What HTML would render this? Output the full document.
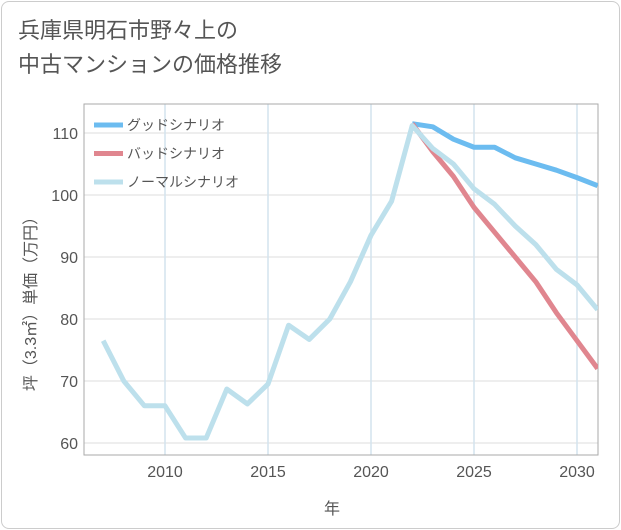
<!DOCTYPE html>
<html><head><meta charset="utf-8"><style>
body{margin:0;background:#fff;font-family:"Liberation Sans","Noto Sans CJK JP",sans-serif;}
.frame{position:absolute;left:1px;top:1px;width:617px;height:526px;border:1px solid #ccc;border-radius:8px;}
.title{position:absolute;left:18px;top:14px;font-size:22px;line-height:34px;color:#555;}
</style></head><body>
<div class="frame"></div>
<div class="title">兵庫県明石市野々上の<br>中古マンションの価格推移</div>
<svg id="chart" width="621" height="530" style="position:absolute;left:0;top:0"></svg>
<script>
const years=[2007,2008,2009,2010,2011,2012,2013,2014,2015,2016,2017,2018,2019,2020,2021,2022,2023,2024,2025,2026,2027,2028,2029,2030,2031];
const normal=[76.5,70,66,66,60.8,60.8,68.7,66.3,69.5,79,76.7,80,86,93.5,99,111.2,107.5,105,101,98.5,95,92,88,85.5,81.5];
const goodYears=[2022,2023,2024,2025,2026,2027,2028,2029,2030,2031];
const good=[111.5,111,109,107.7,107.7,106,105,104,102.8,101.5];
const bad=[111.5,107,103,98,94,90,86,81,76.5,72];
const xTicks=[2010,2015,2020,2025,2030];
const yTicks=[60,70,80,90,100,110];
const L=84,R=598,T=104,B=455;
const x=v=>165+(v-2010)*20.6;
const y=v=>443-(v-60)*6.2;
const svg=document.getElementById('chart');
const NS='http://www.w3.org/2000/svg';
function mk(t,a){const e=document.createElementNS(NS,t);for(const k in a)e.setAttribute(k,a[k]);svg.appendChild(e);return e;}
yTicks.forEach(v=>{
 const g=mk('line',{x1:L,x2:R,y1:y(v),y2:y(v),stroke:'#ddd','stroke-width':1});
 
 
 const t=mk('text',{x:L-6,y:y(v)+6,'text-anchor':'end','font-size':16,fill:'#555'});t.textContent=v;
 
 
});
xTicks.forEach(v=>{
 const g=mk('line',{x1:x(v),x2:x(v),y1:T,y2:B,stroke:'#d3e3ee','stroke-width':1.5});
 
 
 const t=mk('text',{x:x(v),y:B+22,'text-anchor':'middle','font-size':16,fill:'#555'});t.textContent=v;
 
 
});
const bd=mk('rect',{x:L,y:T,width:R-L,height:B-T,fill:'none',stroke:'#aaa','stroke-width':1});


const cp=mk('clipPath',{id:'cp'});const cr=document.createElementNS(NS,'rect');
cr.setAttribute('x',L);cr.setAttribute('y',T);cr.setAttribute('width',R-L);cr.setAttribute('height',B-T);cp.appendChild(cr);
function line(xs,vs,c,name){
 const p=mk('polyline',{points:xs.map((a,i)=>x(a)+','+y(vs[i])).join(' '),fill:'none',stroke:c,'stroke-width':5,'stroke-linejoin':'round','clip-path':'url(#cp)'});
 
 
}
line(goodYears,good,'#6cbcf0','good-scenario-line');
line(goodYears,bad,'#e0868f','bad-scenario-line');
line(years,normal,'#bde0ec','normal-scenario-line');
const leg=[['グッドシナリオ','#6cbcf0'],['バッドシナリオ','#e0868f'],['ノーマルシナリオ','#bde0ec']];
leg.forEach((d,i)=>{
 const yy=125+i*28.5;
 const l=mk('line',{x1:94,x2:123,y1:yy,y2:yy,stroke:d[1],'stroke-width':5});
 
 
 const t=mk('text',{x:127,y:yy+5,'font-size':14,fill:'#555'});t.textContent=d[0];
 
 
});
const xt=mk('text',{x:332,y:514,'text-anchor':'middle','font-size':16,fill:'#555'});xt.textContent='年';


const yt=mk('text',{x:0,y:0,'text-anchor':'middle','font-size':16,fill:'#555',transform:'translate(36,300) rotate(-90)'});yt.textContent='坪（3.3㎡）単価（万円）';


</script>
</body></html>
